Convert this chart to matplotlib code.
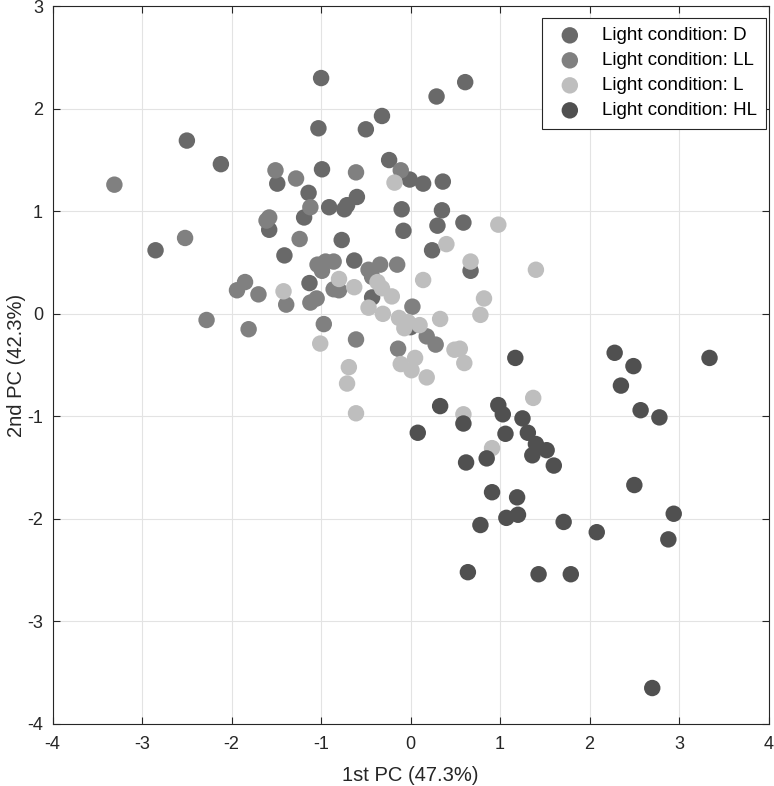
import numpy as np
import matplotlib
matplotlib.use('Agg')
import matplotlib.pyplot as plt

plt.rcParams['font.family'] = ['Liberation Sans', 'DejaVu Sans']
plt.rcParams['axes.unicode_minus'] = False

# PCA scores per light condition
d_x = [-1.00, -1.03, -0.50, -0.32, 0.29, 0.61, -2.50, -2.12, -1.49, -0.99, -0.24, -0.01,
       0.14, 0.36, -1.14, -0.91, -0.74, -0.71, -0.60, -0.10, -0.08, 0.35, 0.30, 0.59,
       -1.58, -1.19, -0.77, -1.41, -2.85, -0.63, -1.13, -0.43, 0.24, 0.67, 0.00]
d_y = [2.30, 1.81, 1.80, 1.93, 2.12, 2.26, 1.69, 1.46, 1.27, 1.41, 1.50, 1.31,
       1.27, 1.29, 1.18, 1.04, 1.02, 1.06, 1.14, 1.02, 0.81, 1.01, 0.86, 0.89,
       0.82, 0.94, 0.72, 0.57, 0.62, 0.52, 0.30, 0.16, 0.62, 0.42, -0.13]

ll_x = [-3.31, -1.51, -1.28, -0.61, -0.11, -1.12, -1.58, -1.61, -1.24, -2.52, -1.04, -0.95,
        -0.86, -0.99, -0.47, -0.43, -0.34, -0.15, -1.85, -1.94, -1.70, -1.39, -1.12, -1.05,
        -0.86, -0.80, 0.02, -2.28, -1.81, -0.97, -0.61, -0.14, 0.18, 0.28]
ll_y = [1.26, 1.40, 1.32, 1.38, 1.40, 1.04, 0.94, 0.91, 0.73, 0.74, 0.48, 0.51,
        0.51, 0.42, 0.43, 0.36, 0.48, 0.48, 0.31, 0.23, 0.19, 0.09, 0.11, 0.15,
        0.24, 0.23, 0.07, -0.06, -0.15, -0.10, -0.25, -0.34, -0.22, -0.30]

l_x = [-0.18, -1.42, -0.80, -0.63, -0.37, -0.32, -0.21, -0.47, -0.31, -0.13, -0.07, 0.10,
       -0.03, 0.33, 0.14, 0.40, 0.67, 0.98, 1.40, 0.82, 0.78, 0.49, 0.55, 0.60,
       -0.11, 0.01, 0.05, 0.18, 1.37, 0.59, 0.91, -1.01, -0.69, -0.71, -0.61]
l_y = [1.28, 0.22, 0.34, 0.26, 0.31, 0.25, 0.17, 0.06, 0.00, -0.04, -0.14, -0.11,
       -0.08, -0.05, 0.33, 0.68, 0.51, 0.87, 0.43, 0.15, -0.01, -0.35, -0.34, -0.48,
       -0.49, -0.55, -0.43, -0.62, -0.82, -0.98, -1.31, -0.29, -0.52, -0.68, -0.97]

hl_x = [1.17, 2.28, 2.49, 3.34, 2.35, 2.57, 2.78, 0.33, 0.98, 1.03, 1.25, 0.59,
        0.08, 1.06, 1.31, 1.40, 1.52, 1.36, 1.60, 0.62, 0.85, 2.50, 0.91, 1.19,
        2.94, 1.07, 1.20, 0.78, 1.71, 2.08, 2.88, 0.64, 1.43, 1.79, 2.70]
hl_y = [-0.43, -0.38, -0.51, -0.43, -0.70, -0.94, -1.01, -0.90, -0.89, -0.98, -1.02, -1.07,
        -1.16, -1.17, -1.16, -1.27, -1.33, -1.38, -1.48, -1.45, -1.41, -1.67, -1.74, -1.79,
        -1.95, -1.99, -1.96, -2.06, -2.03, -2.13, -2.20, -2.52, -2.54, -2.54, -3.65]

groups = [
    ('Light condition: D', d_x, d_y, '#696969'),
    ('Light condition: LL', ll_x, ll_y, '#808080'),
    ('Light condition: L', l_x, l_y, '#bebebe'),
    ('Light condition: HL', hl_x, hl_y, '#505050'),
]

fig = plt.figure(figsize=(7.74, 7.86), dpi=100)
ax = fig.add_axes([0.068, 0.079, 0.925, 0.913])

for label, xs, ys, c in groups:
    ax.scatter(xs, ys, s=140, c=c, edgecolors='none', label=label, zorder=3)

ax.set_xlim(-4, 4)
ax.set_ylim(-4, 3)
ax.set_xticks(np.arange(-4, 5, 1))
ax.set_yticks(np.arange(-4, 4, 1))
ax.grid(True, color='#e3e3e3', linewidth=0.8, zorder=0)
ax.set_axisbelow(True)
ax.tick_params(direction='in', length=5, width=0.8, colors='#262626',
               labelsize=13, top=True, right=True)
ax.tick_params(axis='x', pad=9)
ax.tick_params(axis='y', pad=7)
for sp in ax.spines.values():
    sp.set_color('#262626')
    sp.set_linewidth(0.8)

ax.set_xlabel('1st PC (47.3%)', fontsize=14.5, color='#262626', labelpad=9)
ax.set_ylabel('2nd PC (42.3%)', fontsize=14.5, color='#262626', labelpad=1)

leg = ax.legend(loc='upper right', bbox_to_anchor=(0.9965, 0.984), borderaxespad=0,
                fontsize=13.5, frameon=True, fancybox=False,
                edgecolor='#262626', framealpha=1,
                handletextpad=0.7, borderpad=0.5, labelspacing=0.42)
leg.get_frame().set_linewidth(0.8)

fig.savefig('out.png', dpi=100)
